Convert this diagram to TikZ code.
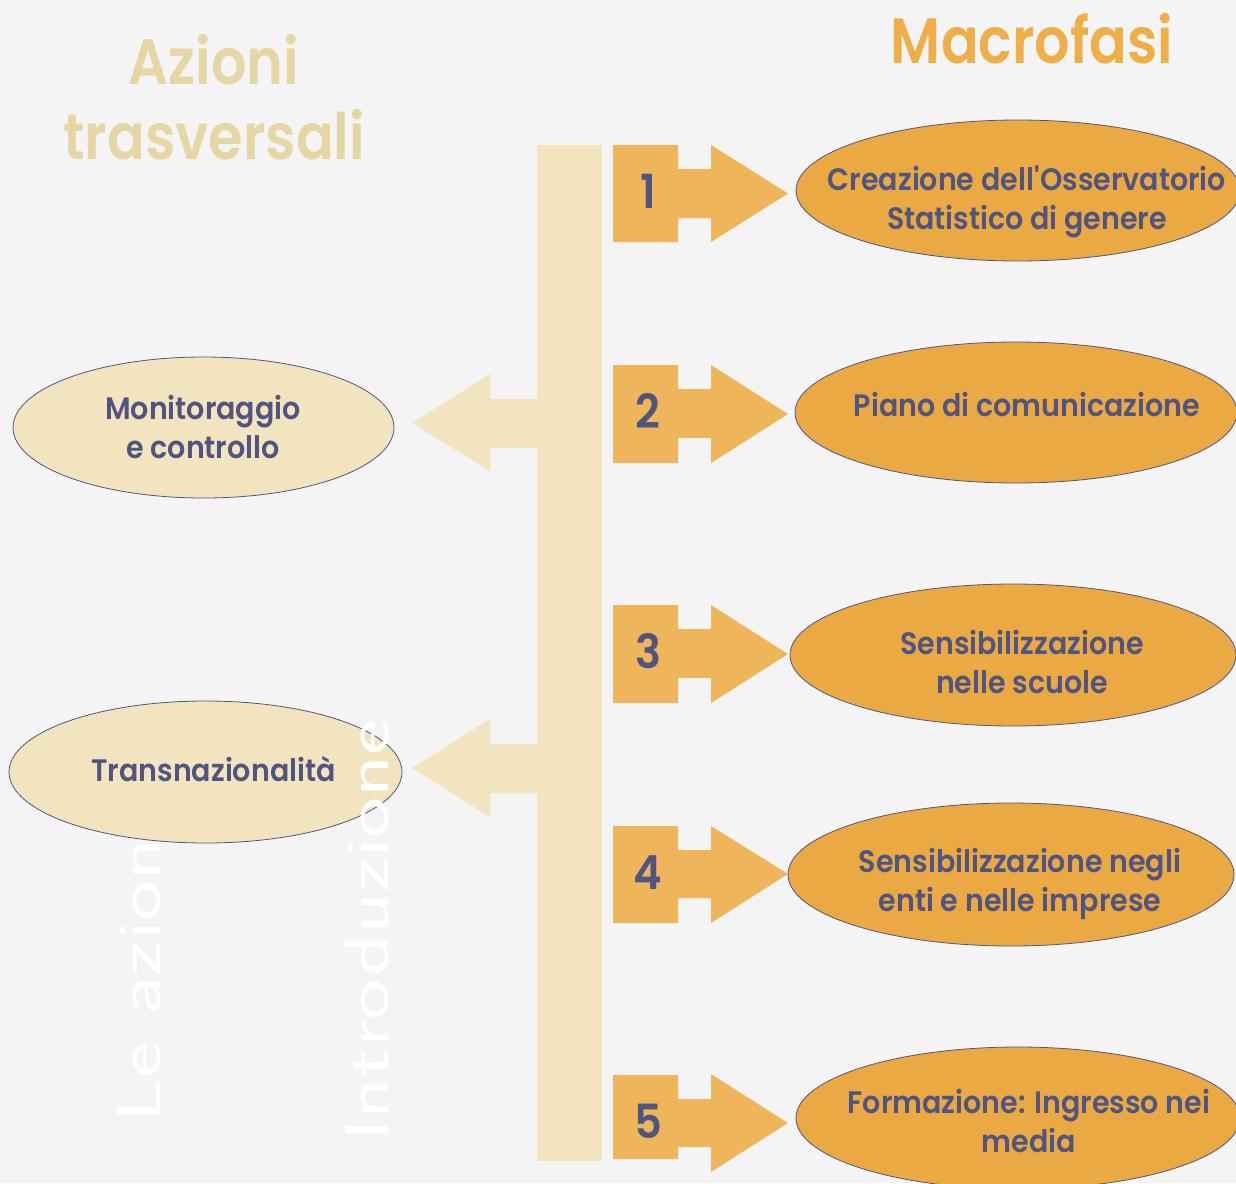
\documentclass[tikz,border=0pt]{standalone}
\usepackage{fontspec}
\setmainfont{Poppins}[BoldFont={* SemiBold}, FakeStretch=0.92]
\newfontfamily\titolofont{Poppins}[BoldFont={* SemiBold}, FakeStretch=0.87]
\newfontfamily\manoscritto{Latin Modern Sans}[FakeStretch=1.4]
\usetikzlibrary{shapes.geometric}

\definecolor{sfondo}{HTML}{F4F4F4}
\definecolor{crema}{HTML}{F2E4BF}
\definecolor{cremascuro}{HTML}{E5D6A4}
\definecolor{arancio}{HTML}{EBA944}
\definecolor{aranciochiaro}{HTML}{EEB55B}
\definecolor{titoloarancio}{HTML}{EEAE48}
\definecolor{blu}{HTML}{4F5480}

\tikzset{
  fase/.style={ellipse, draw=blu, line width=0.8pt, fill=arancio, inner sep=0pt},
  azione/.style={ellipse, draw=blu, line width=0.8pt, fill=crema, inner sep=0pt},
  etichetta/.style={text=blu, font=\fontsize{31}{39}\selectfont\bfseries, align=center, inner sep=0pt},
  numero/.style={text=blu, font=\fontsize{47}{47}\selectfont\bfseries, inner sep=0pt, anchor=base},
  titolo/.style={font=\fontsize{64}{75}\titolofont\bfseries, align=center, inner sep=0pt},
  scritta/.style={text=white, font=\fontsize{62}{62}\manoscritto, rotate=90, anchor=base west, inner sep=0pt},
}

\begin{document}
\begin{tikzpicture}[x=1pt,y=-1pt]
  \useasboundingbox (0,0) rectangle (1236,1183);
  \clip (0,0) rectangle (1236,1183);
  \fill[sfondo] (0,0) rectangle (1236,1183);

  % titoli
  \node[titolo, text=cremascuro] (azioni) at (214,97) {Azioni\\trasversali};
  \node[titolo, text=titoloarancio, anchor=base] (macrofasi) at (1032,63) {Macrofasi};

  \node[scritta] (leazioni) at (160,1123) {Le azioni};

  % barra e frecce a sinistra
  \fill[crema] (537,145) rectangle (602,1161);
  \fill[crema] (537,399) -- (490,399) -- (490,374) -- (412,423) -- (490,471) -- (490,448) -- (537,448) -- cycle;
  \fill[crema] (537,744) -- (490,744) -- (490,719) -- (412,768) -- (490,817) -- (490,793) -- (537,793) -- cycle;

  % azioni trasversali
  \node[azione, minimum width=381pt, minimum height=141pt] (a1) at (203.5,427.5) {};
  \node[azione, minimum width=393pt, minimum height=142pt] (a2) at (205.5,772) {};
  \node[etichetta] (t_a1) at (203,426.5) {Monitoraggio\\e controllo};
  \node[etichetta, anchor=base] (t_a2) at (213.5,781) {Transnazionalità};

  % frecce delle macrofasi
  \fill[aranciochiaro] (613,145) -- (678,145) -- (678,169) -- (711,169) -- (711,145) -- (788,193.5) -- (711,242) -- (711,218) -- (678,218) -- (678,242) -- (613,242) -- cycle;
  \fill[aranciochiaro] (613,365) -- (678,365) -- (678,389) -- (711,389) -- (711,365) -- (788,414) -- (711,463) -- (711,438) -- (678,438) -- (678,463) -- (613,463) -- cycle;
  \fill[aranciochiaro] (613,605) -- (678,605) -- (678,629) -- (711,629) -- (711,605) -- (788,654) -- (711,703) -- (711,678) -- (678,678) -- (678,703) -- (613,703) -- cycle;
  \fill[aranciochiaro] (613,826) -- (678,826) -- (678,850) -- (711,850) -- (711,826) -- (788,874) -- (711,923) -- (711,898) -- (678,898) -- (678,923) -- (613,923) -- cycle;
  \fill[aranciochiaro] (613,1075) -- (678,1075) -- (678,1099) -- (711,1099) -- (711,1074) -- (788,1123) -- (711,1172) -- (711,1147) -- (678,1147) -- (678,1159) -- (613,1159) -- cycle;

  \node[numero] (n1) at (648,208) {1};
  \node[numero] (n2) at (648,428) {2};
  \node[numero] (n3) at (648,668) {3};
  \node[numero] (n4) at (648,889) {4};
  \node[numero] (n5) at (648,1138) {5};

  % macrofasi
  \node[fase, minimum width=444pt, minimum height=141pt] (f1) at (1018,190.5) {};
  \node[fase, minimum width=442pt, minimum height=141pt] (f2) at (1016,412.5) {};
  \node[fase, minimum width=446pt, minimum height=142pt] (f3) at (1013,655) {};
  \node[fase, minimum width=446pt, minimum height=143pt] (f4) at (1011,874.5) {};
  \node[fase, minimum width=444pt, minimum height=142pt] (f5) at (1018,1118) {};

  \node[etichetta] (t_f1) at (1027,202) {Creazione dell\textquotesingle Osservatorio\\Statistico di genere};
  \node[etichetta, anchor=base] (t_f2) at (1027,416) {Piano di comunicazione};
  \node[etichetta] (t_f3) at (1022,661.5) {Sensibilizzazione\\nelle scuole};
  \node[etichetta] (t_f4) at (1020,883.5) {Sensibilizzazione negli\\enti e nelle imprese};
  \node[etichetta] (t_f5) at (1029,1120.5) {Formazione: Ingresso nei\\media};

  \node[scritta] (introduzione) at (388,1142) {Introduzione};
\end{tikzpicture}
\end{document}
